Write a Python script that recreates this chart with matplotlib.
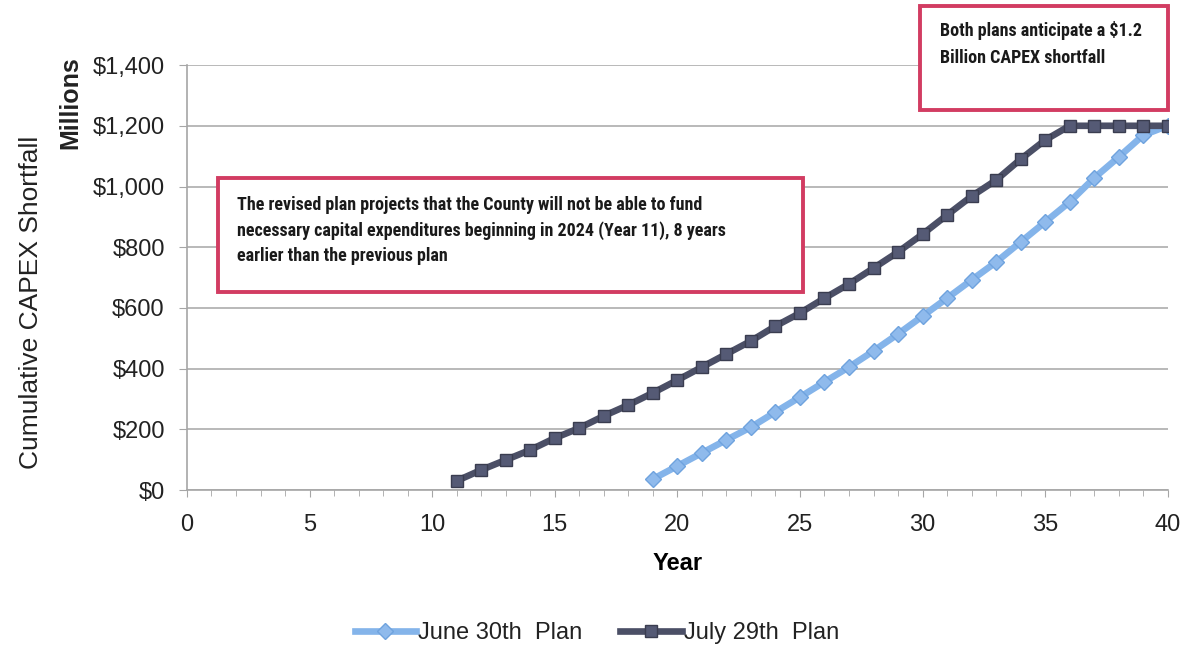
import matplotlib
matplotlib.use("Agg")
import matplotlib.pyplot as plt
from matplotlib.patches import Rectangle
from matplotlib.ticker import FuncFormatter, MultipleLocator

# Cumulative CAPEX shortfall ($ millions) by plan year
june_years = list(range(19, 41))
june_values = [36, 79, 122, 165, 207, 257, 306, 356, 405, 458, 514, 573,
               632, 692, 751, 817, 883, 949, 1028, 1097, 1169, 1200]

july_years = list(range(11, 41))
july_values = [30, 66, 99, 132, 171, 204, 244, 280, 320, 362, 405, 448,
               491, 540, 583, 632, 679, 731, 784, 843, 906, 968, 1021, 1090,
               1153, 1200, 1200, 1200, 1200, 1200]

series_labels = ["June 30th  Plan", "July 29th  Plan"]
y_ticks = [0, 200, 400, 600, 800, 1000, 1200, 1400]
x_ticks = [0, 5, 10, 15, 20, 25, 30, 35, 40]

note_revised = ("The revised plan projects that the County will not be able to fund\n"
                "necessary capital expenditures beginning in 2024 (Year 11), 8 years\n"
                "earlier than the previous plan")
note_both = "Both plans anticipate a \\$1.2\nBillion CAPEX shortfall"

plt.rcParams["font.family"] = ["Liberation Sans", "DejaVu Sans"]
note_font = ["Roboto Condensed", "Liberation Sans Narrow", "Liberation Sans"]

fig = plt.figure(figsize=(11.94, 6.51), dpi=100)
ax = fig.add_axes([0.1566, 0.2473, 0.8214, 0.6527])

light_blue = "#84b4ea"
dark_slate = "#4b4f66"
grid_gray = "#a6a6a6"
frame_red = "#d23c62"

ax.plot(june_years, june_values, color=light_blue, lw=4.8, marker="D",
        markersize=8, markerfacecolor="#8fbaec", markeredgecolor="#6fa3de",
        label=series_labels[0], zorder=3)
ax.plot(july_years, july_values, color=dark_slate, lw=4.8, marker="s",
        markersize=8, markerfacecolor="#555a75", markeredgecolor="#3a3d50",
        label=series_labels[1], zorder=4)

ax.set_xlim(0, 40)
ax.set_ylim(0, 1400)
ax.set_yticks(y_ticks)
ax.set_xticks(x_ticks)
ax.xaxis.set_minor_locator(MultipleLocator(1))
ax.yaxis.set_major_formatter(FuncFormatter(lambda v, p: "\\${:,.0f}".format(v)))

ax.grid(axis="y", color=grid_gray, lw=1.1)
ax.set_axisbelow(True)
for s in ["top", "right"]:
    ax.spines[s].set_visible(False)
for s in ["left", "bottom"]:
    ax.spines[s].set_color(grid_gray)
    ax.spines[s].set_linewidth(1.2)

ax.tick_params(axis="y", which="major", direction="out", length=6, color=grid_gray,
               labelsize=17, pad=10, labelcolor="#222222")
ax.tick_params(axis="x", which="major", direction="out", length=5, color=grid_gray,
               labelsize=17, pad=12, labelcolor="#222222")
ax.tick_params(axis="x", which="minor", direction="out", length=4, color=grid_gray)

ax.set_xlabel("Year", fontsize=17, fontweight="bold", labelpad=12)
fig.text(0.026, 0.536, "Cumulative CAPEX Shortfall", rotation=90, fontsize=19,
         ha="center", va="center", color="#222222")
fig.text(0.059, 0.843, "Millions", rotation=90, fontsize=18, fontweight="bold",
         ha="center", va="center", color="#222222")

# Callout frames in figure coordinates
r1 = Rectangle((218 / 1194, 1 - 292 / 651), (803 - 218) / 1194, (292 - 178) / 651,
               transform=fig.transFigure, facecolor="white", edgecolor=frame_red,
               lw=2.8, zorder=5)
fig.patches.append(r1)
fig.text(237 / 1194, 1 - 196 / 651, note_revised, family=note_font, fontweight="bold",
         fontsize=13, va="top", ha="left", linespacing=1.48, color="#1a1a1a", zorder=6)

r2 = Rectangle((920 / 1194, 1 - 110 / 651), (1168 - 920) / 1194, (110 - 6) / 651,
               transform=fig.transFigure, facecolor="white", edgecolor=frame_red,
               lw=2.8, zorder=5)
fig.patches.append(r2)
fig.text(940 / 1194, 1 - 21 / 651, note_both, family=note_font, fontweight="bold",
         fontsize=13, va="top", ha="left", linespacing=1.65, color="#1a1a1a", zorder=6)

fig.legend(loc="center", bbox_to_anchor=(0.5, 1 - 633 / 651), ncol=2, frameon=False,
           fontsize=17, handlelength=2.6, columnspacing=1.6, handletextpad=0.1,
           labelcolor="#222222")

fig.savefig("out.png", dpi=100, facecolor="white")
